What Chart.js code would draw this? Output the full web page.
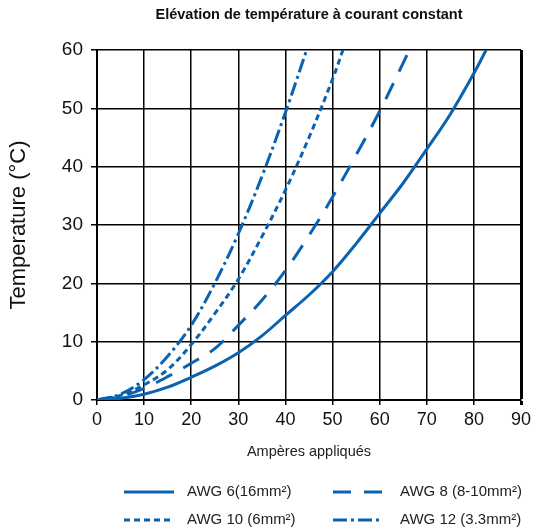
<!DOCTYPE html>
<html>
<head>
<meta charset="utf-8">
<script src="https://cdn.jsdelivr.net/npm/chart.js@4.4.1/dist/chart.umd.min.js"></script>
<style>
  html, body { margin: 0; padding: 0; background: #fff; }
  #wrap { width: 540px; height: 532px; }
</style>
</head>
<body>
<div id="wrap"><canvas id="chart-line"></canvas></div>
<script>
// values (amperes -> temperature rise)
const awg6Amps = [0, 5, 10, 15, 20, 25, 30, 35, 40, 45, 50, 55, 60, 65, 70, 75, 80, 82.6];
const awg6Temp = [0, 0.3, 1, 2.2, 3.9, 5.8, 8.1, 11, 14.5, 18, 22, 26.8, 32, 37.2, 43, 49, 56, 60];
const awg8Amps = [0, 5, 10, 15, 20, 25, 30, 35, 40, 45, 50, 55, 60, 65, 66.3];
const awg8Temp = [0, 0.6, 2, 4, 6.3, 8.8, 12.8, 17.1, 22.2, 28.2, 34.8, 42, 49.5, 57.8, 60];
const awg10Amps = [0, 5, 10, 15, 20, 25, 30, 35, 40, 45, 50, 52.2];
const awg10Temp = [0, 0.8, 2.6, 5.2, 9.5, 14.8, 20.7, 28, 36, 45, 55, 60];
const awg12Amps = [0, 5, 10, 15, 20, 25, 30, 35, 40, 44.5];
const awg12Temp = [0, 1, 3.5, 7.5, 12.8, 20, 28.5, 38.3, 49.3, 60];

const seriesLabels = ["AWG 6(16mm²)", "AWG 8 (8-10mm²)", "AWG 10 (6mm²)", "AWG 12 (3.3mm²)"];
const xTicks = [0, 10, 20, 30, 40, 50, 60, 70, 80, 90];
const yTicks = [0, 10, 20, 30, 40, 50, 60];

const blue = "#0a62b0";
const toPoints = (xs, ys) => xs.map((x, i) => ({ x: x, y: ys[i] }));

function makeSet(label, xs, ys, dash) {
  return {
    label: label,
    data: toPoints(xs, ys),
    borderColor: blue,
    backgroundColor: blue,
    borderWidth: 3,
    borderDash: dash,
    pointRadius: 0,
    tension: 0.35,
    fill: false,
  };
}

// legend drawn as a 2x2 grid under the axis title
const gridLegend = {
  id: "gridLegend",
  afterDraw(chart) {
    const ctx = chart.ctx;
    const spots = [
      { lx: 124, tx: 187, y: 492 },
      { lx: 333, tx: 400, y: 492 },
      { lx: 124, tx: 187, y: 520 },
      { lx: 333, tx: 400, y: 520 },
    ];
    chart.data.datasets.forEach((ds, i) => {
      const s = spots[i];
      ctx.save();
      ctx.strokeStyle = ds.borderColor;
      ctx.lineWidth = 3;
      ctx.setLineDash(ds.borderDash || []);
      ctx.beginPath();
      ctx.moveTo(s.lx, s.y);
      ctx.lineTo(s.lx + 50, s.y);
      ctx.stroke();
      ctx.setLineDash([]);
      ctx.fillStyle = "#222";
      ctx.font = "15px 'Liberation Sans', Arial, sans-serif";
      ctx.textBaseline = "middle";
      ctx.textAlign = "left";
      ctx.fillText(ds.label, s.tx, s.y);
      ctx.restore();
    });
  },
};

Chart.defaults.font.family = "'Liberation Sans', Arial, sans-serif";
Chart.defaults.color = "#111";

const ctx = document.getElementById("chart-line").getContext("2d");
new Chart(ctx, {
  type: "line",
  data: {
    datasets: [
      makeSet(seriesLabels[0], awg6Amps, awg6Temp, []),
      makeSet(seriesLabels[1], awg8Amps, awg8Temp, [18, 13]),
      makeSet(seriesLabels[2], awg10Amps, awg10Temp, [6, 4]),
      makeSet(seriesLabels[3], awg12Amps, awg12Temp, [14, 4, 3, 4]),
    ],
  },
  options: {
    responsive: true,
    maintainAspectRatio: false,
    animation: false,
    layout: { padding: { left: 0, right: 19, top: 0, bottom: 0 } },
    plugins: {
      legend: { display: false },
      tooltip: { enabled: false },
      title: {
        display: true,
        text: "Elévation de température à courant constant",
        fullSize: false,
        color: "#111",
        font: { size: 14.5, weight: "bold" },
        padding: { top: 6, bottom: 26.6 },
      },
    },
    scales: {
      x: {
        type: "linear",
        min: 0,
        max: 90,
        afterBuildTicks: (scale) => { scale.ticks = xTicks.map((v) => ({ value: v })); },
        afterFit: (scale) => { scale.height = 132; },
        grid: {
          color: "#000",
          lineWidth: (c) => (c.tick && c.tick.value === 90 ? 3 : 1.5),
          drawTicks: true,
          tickLength: 5,
        },
        border: { color: "#000", width: 2 },
        ticks: { color: "#111", padding: 4, maxRotation: 0, font: { size: 18 } },
        title: {
          display: true,
          text: "Ampères appliqués",
          color: "#222",
          font: { size: 14.5 },
          padding: { top: 0, bottom: 71 },
        },
      },
      y: {
        type: "linear",
        min: 0,
        max: 60,
        afterBuildTicks: (scale) => { scale.ticks = yTicks.map((v) => ({ value: v })); },
        afterFit: (scale) => { scale.width = 97; },
        grid: {
          color: "#000",
          lineWidth: 1.5,
          drawTicks: true,
          tickLength: 6,
        },
        border: { color: "#000", width: 2 },
        ticks: { color: "#111", padding: 8, font: { size: 19 } },
        title: {
          display: true,
          text: "Temperature (°C)",
          color: "#111",
          font: { size: 22 },
          padding: { top: 6, bottom: 0 },
        },
      },
    },
  },
  plugins: [gridLegend],
});
</script>
</body>
</html>
